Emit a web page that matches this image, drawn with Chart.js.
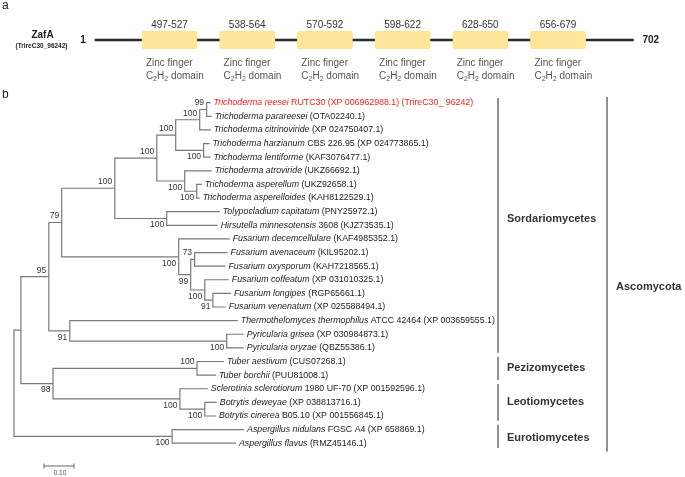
<!DOCTYPE html>
<html><head><meta charset="utf-8">
<script src="https://cdn.jsdelivr.net/npm/chart.js@4.4.0/dist/chart.umd.min.js"></script>
<style>
html,body{margin:0;padding:0;background:#fff;}
#wrap{position:relative;width:685px;height:477px;overflow:hidden;background:#fff;}
#ca{position:absolute;left:0;top:0;}
#cb{position:absolute;left:0;top:90px;}
</style></head><body>
<div id="wrap"><canvas id="ca" width="685" height="90"></canvas><canvas id="cb" width="685" height="387"></canvas></div>
<script>
// ---------- Panel a data ----------
const proteinName = 'ZafA';
const proteinId = '(TrireC30_96242)';
const proteinStart = 1;
const proteinLength = 702;
const domainRanges = ['497-527', '538-564', '570-592', '598-622', '628-650', '656-679'];
const domainLine1 = 'Zinc finger';
const domainLine2 = [['C', false], ['2', true], ['H', false], ['2', true], [' domain', false]];

// ---------- Panel b data (tree) ----------
const leafSpecies = [
  'Trichoderma reesei', 'Trichoderma parareesei', 'Trichoderma citrinoviride',
  'Trichoderma harzianum', 'Trichoderma lentiforme', 'Trichoderma atroviride',
  'Trichoderma asperellum', 'Trichoderma asperelloides', 'Tolypocladium capitatum',
  'Hirsutella minnesotensis', 'Fusarium decemcellulare', 'Fusarium avenaceum',
  'Fusarium oxysporum', 'Fusarium coffeatum', 'Fusarium longipes', 'Fusarium venenatum',
  'Thermothelomyces thermophilus', 'Pyricularia grisea', 'Pyricularia oryzae',
  'Tuber aestivum', 'Tuber borchii', 'Sclerotinia sclerotiorum', 'Botrytis deweyae',
  'Botrytis cinerea', 'Aspergillus nidulans', 'Aspergillus flavus'
];
const leafStrain = [
  ' RUTC30 (XP 006962988.1) (TrireC30_ 96242)', ' (OTA02240.1)', ' (XP 024750407.1)',
  ' CBS 226.95 (XP 024773865.1)', ' (KAF3076477.1)', ' (UKZ66692.1)',
  ' (UKZ92658.1)', ' (KAH8122529.1)', ' (PNY25972.1)',
  ' 3608 (KJZ73535.1)', ' (KAF4985352.1)', ' (KIL95202.1)',
  ' (KAH7218565.1)', ' (XP 031010325.1)', ' (RGP65661.1)', ' (XP 025588494.1)',
  ' ATCC 42464 (XP 003659555.1)', ' (XP 030984873.1)', ' (QBZ55386.1)',
  ' (CUS07268.1)', ' (PUU81008.1)', ' 1980 UF-70 (XP 001592596.1)', ' (XP 038813716.1)',
  ' B05.10 (XP 001556845.1)', ' FGSC A4 (XP 658869.1)', ' (RMZ45146.1)'
];
const leafBranch = [0.013, 0.017, 0.037, 0.020, 0.023, 0.090, 0.017, 0.010, 0.177, 0.170,
  0.170, 0.110, 0.103, 0.080, 0.060, 0.043, 0.560, 0.057, 0.057, 0.090, 0.063, 0.093,
  0.040, 0.037, 0.240, 0.213];
const highlightLeaf = 0;

const nodeNames = ['A','B','C','D','E','F','G','H','I','J','K','L','M','N','O','P','Q','R','S','T','U','V','W','X','root'];
const nodeChildren = [[0,1],['A',2],[3,4],['B','C'],[6,7],[5,'E'],['D','F'],[8,9],['G','H'],
  [14,15],[13,'J'],[11,12],['L','K'],[10,'M'],['I','N'],[17,18],[16,'P'],['O','Q'],
  [19,20],[22,23],[21,'T'],['S','U'],['R','V'],[24,25],['W','X']];
const nodeBranch = [0.023,0.080,0.093,0.063,0.040,0.093,0.140,0.173,0.177,0.027,0.047,0.013,
  0.040,0.390,0.043,0.523,0.070,0.093,0.480,0.083,0.423,0.107,0.023,0.527,0];
const nodeSupport = [99,100,100,100,100,100,100,100,100,91,100,73,99,100,79,100,91,95,100,100,100,98,null,100,null];

const cladeNames = ['Sordariomycetes', 'Pezizomycetes', 'Leotiomycetes', 'Eurotiomycetes'];
const cladeFirst = [0, 19, 21, 24];
const cladeLast = [18, 20, 23, 25];
const cladeLabelRow = [8.5, 19.5, 22, 24.6];
const phylumName = 'Ascomycota';
const phylumLabelRow = 13.5;
const scaleBarLength = 0.10;

// ---------- common style ----------
const FONT = '"Liberation Sans", Arial, Helvetica, sans-serif';

// ---------- tree layout (from data) ----------
const nodeIndex = {};
nodeNames.forEach((n, i) => nodeIndex[n] = i);
const nodeDepth = new Array(nodeNames.length).fill(0);
const nodeY = new Array(nodeNames.length).fill(0);
const leafDepth = new Array(leafSpecies.length).fill(0);
const parentInfo = {}; // key -> {parent, pos}
function keyOf(c) { return typeof c === 'number' ? 'L' + c : 'N' + nodeIndex[c]; }
function layout(name, depth) {
  const i = nodeIndex[name];
  nodeDepth[i] = depth;
  const ys = nodeChildren[i].map((c, k) => {
    parentInfo[keyOf(c)] = { parent: i, pos: k };
    if (typeof c === 'number') { leafDepth[c] = depth + leafBranch[c]; return c; }
    layout(c, depth + nodeBranch[nodeIndex[c]]);
    return nodeY[nodeIndex[c]];
  });
  nodeY[i] = (ys[0] + ys[ys.length - 1]) / 2;
}
layout('root', 0);
function childPos(c) {
  if (typeof c === 'number') return { x: leafDepth[c], y: c };
  const j = nodeIndex[c];
  return { x: nodeDepth[j], y: nodeY[j] };
}
const treeDatasets = nodeNames.map((n, i) => {
  const [c0, c1] = nodeChildren[i].map(childPos);
  return {
    data: [{ x: c0.x, y: c0.y }, { x: nodeDepth[i], y: c0.y }, { x: nodeDepth[i], y: c1.y }, { x: c1.x, y: c1.y }],
    showLine: true, borderColor: '#7a7a7a', borderWidth: 1.2, pointRadius: 0, tension: 0,
    borderJoinStyle: 'miter', fill: false
  };
});

// ---------- Panel a chart ----------
function drawRich(ctx, x, y, parts, size) {
  let cx = x;
  parts.forEach(([t, sub]) => {
    ctx.font = (sub ? size * 0.7 : size) + 'px ' + FONT;
    ctx.fillText(t, cx, sub ? y + size * 0.28 : y);
    cx += ctx.measureText(t).width;
  });
}
const boxDatasets = domainRanges.map((r, i) => ({
  label: r, data: [[i - 0.355, i + 0.355]],
  backgroundColor: '#FFE699', borderColor: '#FBE08C', borderWidth: 0.8,
  borderRadius: 3, borderSkipped: false, barThickness: 18, grouped: false, order: 0
}));
const backboneDataset = {
  label: 'backbone', data: [[-0.96, 5.97]], backgroundColor: '#2a2a2a',
  borderWidth: 0, barThickness: 1.6, grouped: false, order: 10
};
const panelAPlugin = {
  id: 'panelA',
  afterDatasetsDraw(chart) {
    const ctx = chart.ctx;
    ctx.save();
    ctx.fillStyle = '#222';
    ctx.textBaseline = 'middle';
    ctx.font = '12px ' + FONT; ctx.textAlign = 'left';
    ctx.fillText('a', 2, 6);
    const bb = chart.getDatasetMeta(domainRanges.length).data[0];
    const yMid = bb.y;
    ctx.textAlign = 'center';
    ctx.font = 'bold 10px ' + FONT;
    ctx.fillText(proteinName, 42.5, 35);
    ctx.font = 'bold 6.5px ' + FONT;
    ctx.fillText(proteinId, 41.5, 46);
    ctx.font = 'bold 10px ' + FONT;
    ctx.textAlign = 'right'; ctx.fillText(String(proteinStart), Math.min(bb.base, bb.x) - 9, yMid);
    ctx.textAlign = 'left'; ctx.fillText(String(proteinLength), Math.max(bb.base, bb.x) + 9, yMid);
    domainRanges.forEach((r, i) => {
      const el = chart.getDatasetMeta(i).data[0];
      const left = Math.min(el.base, el.x), right = Math.max(el.base, el.x);
      ctx.fillStyle = '#333'; ctx.textAlign = 'center';
      ctx.font = '10px ' + FONT;
      ctx.fillText(r, (left + right) / 2, yMid - 15);
      ctx.fillStyle = '#555'; ctx.textAlign = 'left';
      ctx.fillText(domainLine1, left + 4, yMid + 23);
      drawRich(ctx, left + 4, yMid + 36, domainLine2, 10);
    });
    ctx.restore();
  }
};
new Chart(document.getElementById('ca'), {
  type: 'bar',
  data: { labels: [proteinName], datasets: [...boxDatasets, backboneDataset] },
  options: {
    indexAxis: 'y', responsive: false, animation: false,
    layout: { padding: { top: 0, bottom: 10, left: 0, right: 0 } },
    plugins: { legend: { display: false }, tooltip: { enabled: false } },
    scales: {
      x: { type: 'linear', min: -2.181, max: 6.634, display: false },
      y: { type: 'category', display: false }
    }
  },
  plugins: [panelAPlugin]
});

// ---------- Panel b chart ----------
const panelBPlugin = {
  id: 'panelB',
  afterDatasetsDraw(chart) {
    const ctx = chart.ctx;
    const xs = chart.scales.x, ys = chart.scales.y;
    ctx.save();
    ctx.textBaseline = 'middle';
    ctx.fillStyle = '#222';
    ctx.font = '12px ' + FONT; ctx.textAlign = 'left';
    ctx.fillText('b', 2, 5);
    // leaf labels
    const fs = 8.8;
    leafSpecies.forEach((sp, i) => {
      const px = xs.getPixelForValue(leafDepth[i]) + 3;
      const py = ys.getPixelForValue(i);
      ctx.fillStyle = i === highlightLeaf ? '#ff1a1a' : '#222';
      ctx.font = 'italic ' + fs + 'px ' + FONT;
      ctx.fillText(sp, px, py);
      const w = ctx.measureText(sp).width;
      ctx.font = fs + 'px ' + FONT;
      ctx.fillText(leafStrain[i], px + w, py);
    });
    // support values
    ctx.fillStyle = '#333';
    ctx.font = '8.5px ' + FONT;
    ctx.textAlign = 'right';
    nodeNames.forEach((n, i) => {
      if (nodeSupport[i] == null) return;
      const info = parentInfo['N' + i];
      const above = info && info.pos === 0;
      const px = xs.getPixelForValue(nodeDepth[i]) - 2.5;
      const py = ys.getPixelForValue(nodeY[i]) + (above ? -6.5 : 6.5);
      ctx.fillText(String(nodeSupport[i]), px, py);
    });
    // clade brackets
    ctx.strokeStyle = '#555'; ctx.lineWidth = 1.3;
    const cladeX = 498, phylumX = 607;
    cladeNames.forEach((c, k) => {
      const y0 = ys.getPixelForValue(cladeFirst[k] - 0.35);
      const y1 = ys.getPixelForValue(cladeLast[k] + 0.35);
      ctx.beginPath(); ctx.moveTo(cladeX, y0); ctx.lineTo(cladeX, y1); ctx.stroke();
      ctx.fillStyle = '#333'; ctx.textAlign = 'left';
      ctx.font = 'bold 11px ' + FONT;
      ctx.fillText(c, cladeX + 9, ys.getPixelForValue(cladeLabelRow[k]));
    });
    const p0 = ys.getPixelForValue(cladeFirst[0] - 0.42);
    const p1 = ys.getPixelForValue(cladeLast[cladeLast.length - 1] + 0.6);
    ctx.beginPath(); ctx.moveTo(phylumX, p0); ctx.lineTo(phylumX, p1); ctx.stroke();
    ctx.fillText(phylumName, phylumX + 9, ys.getPixelForValue(phylumLabelRow));
    // scale bar
    const sx0 = xs.getPixelForValue(0.1), sx1 = xs.getPixelForValue(0.1 + scaleBarLength);
    const sy = 376;
    ctx.strokeStyle = '#666'; ctx.lineWidth = 1;
    ctx.beginPath();
    ctx.moveTo(sx0, sy); ctx.lineTo(sx1, sy);
    ctx.moveTo(sx0, sy - 2.5); ctx.lineTo(sx0, sy + 2.5);
    ctx.moveTo(sx1, sy - 2.5); ctx.lineTo(sx1, sy + 2.5);
    ctx.stroke();
    ctx.fillStyle = '#555'; ctx.textAlign = 'center'; ctx.font = '6.5px ' + FONT;
    ctx.fillText(scaleBarLength.toFixed(2), (sx0 + sx1) / 2 + 1, sy + 7.5);
    ctx.restore();
  }
};
new Chart(document.getElementById('cb'), {
  type: 'scatter',
  data: { datasets: treeDatasets },
  options: {
    responsive: false, animation: false,
    layout: { padding: 0 },
    plugins: { legend: { display: false }, tooltip: { enabled: false } },
    scales: {
      x: { type: 'linear', min: -0.04667, max: 2.2367, display: false },
      y: { type: 'linear', reverse: true, min: -0.9325, max: 27.48, display: false }
    }
  },
  plugins: [panelBPlugin]
});
</script>
</body></html>
